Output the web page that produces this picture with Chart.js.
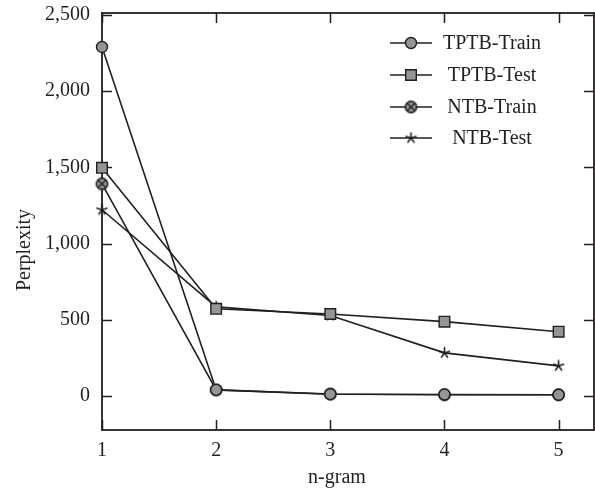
<!DOCTYPE html>
<html><head><meta charset="utf-8">
<script src="https://cdn.jsdelivr.net/npm/chart.js@4/dist/chart.umd.min.js"></script>
<style>html,body{margin:0;padding:0;background:#fff}#wrap{width:595px;height:496px}</style>
</head><body><div id="wrap"><canvas id="c" width="595" height="496"></canvas></div>
<script>
const nGrams = [1, 2, 3, 4, 5];
const tptbTrain = [2290, 40, 12, 10, 8];
const tptbTest = [1497, 572, 538, 488, 422];
const ntbTrain = [1392, 40, 13, 8, 8];
const ntbTest = [1222, 585, 528, 283, 198];
const yTicks = [0, 500, 1000, 1500, 2000, 2500];
const xTicks = [1, 2, 3, 4, 5];
const seriesNames = ['TPTB-Train', 'TPTB-Test', 'NTB-Train', 'NTB-Test'];

const INK = '#231f20';
const GRAY = '#959595';
const FONT = '"Liberation Serif", "DejaVu Serif", serif';
const FS = 20;

// crossed-circle marker
function makeCrossCircle() {
  const s = 15, c = document.createElement('canvas');
  c.width = s; c.height = s;
  const g = c.getContext('2d');
  const m = s / 2, r = 5.6;
  g.beginPath(); g.arc(m, m, r, 0, Math.PI * 2);
  g.fillStyle = GRAY; g.fill();
  g.lineWidth = 1.6; g.strokeStyle = INK; g.stroke();
  const d = r * 0.68;
  g.beginPath();
  g.moveTo(m - d, m - d); g.lineTo(m + d, m + d);
  g.moveTo(m + d, m - d); g.lineTo(m - d, m + d);
  g.lineWidth = 1.4; g.stroke();
  return c;
}
// typographic asterisk marker
function makeAsterisk() {
  const s = 13, c = document.createElement('canvas');
  c.width = s; c.height = s;
  const g = c.getContext('2d');
  const m = s / 2, r = 5.2;
  g.strokeStyle = INK; g.lineWidth = 1.6; g.lineCap = 'round';
  g.beginPath();
  for (let k = 0; k < 5; k++) {
    const ang = (-90 + k * 72) * Math.PI / 180;
    g.moveTo(m, m); g.lineTo(m + r * Math.cos(ang), m + r * Math.sin(ang));
  }
  g.stroke();
  return c;
}
const crossCircle = makeCrossCircle();
const asterisk = makeAsterisk();

const pts = arr => arr.map((v, i) => ({ x: nGrams[i], y: v }));
const styles = [
  { pointStyle: 'circle', pointRadius: 5.5, pointBackgroundColor: GRAY },
  { pointStyle: 'rect', pointRadius: 7.5, pointBackgroundColor: GRAY },
  { pointStyle: crossCircle, pointRadius: 6, pointBackgroundColor: GRAY },
  { pointStyle: asterisk, pointRadius: 5.5, pointBackgroundColor: INK }
];
const values = [tptbTrain, tptbTest, ntbTrain, ntbTest];
const datasets = values.map((arr, i) => Object.assign({
  label: seriesNames[i],
  data: pts(arr),
  borderColor: INK,
  borderWidth: 1.6,
  pointBorderColor: INK,
  pointBorderWidth: 1.4,
  fill: false,
  tension: 0,
  clip: false
}, styles[i]));

const framePlugin = {
  id: 'frame',
  beforeDatasetsDraw(chart) {
    const { ctx, chartArea: a, scales } = chart;
    ctx.save();
    ctx.strokeStyle = INK;
    ctx.lineWidth = 1.8;
    ctx.strokeRect(a.left, a.top, a.right - a.left, a.bottom - a.top);
    ctx.lineWidth = 1.5;
    const tl = 10;
    ctx.beginPath();
    yTicks.forEach(v => {
      const y = Math.round(scales.y.getPixelForValue(v)) + 0.5;
      ctx.moveTo(a.left, y); ctx.lineTo(a.left + tl, y);
      ctx.moveTo(a.right, y); ctx.lineTo(a.right - tl, y);
    });
    xTicks.forEach(v => {
      const x = Math.round(scales.x.getPixelForValue(v)) + 0.5;
      ctx.moveTo(x, a.bottom); ctx.lineTo(x, a.bottom - tl);
      ctx.moveTo(x, a.top); ctx.lineTo(x, a.top + tl);
    });
    ctx.stroke();
    ctx.restore();
  },
  afterDraw(chart) {
    const { ctx, chartArea: a } = chart;
    ctx.save();
    ctx.fillStyle = INK;
    ctx.font = FS + 'px ' + FONT;
    // axis titles
    ctx.textAlign = 'center';
    ctx.textBaseline = 'alphabetic';
    ctx.fillText('n-gram', a.left + 235, 483);
    ctx.save();
    ctx.translate(30, 250);
    ctx.rotate(-Math.PI / 2);
    ctx.fillText('Perplexity', 0, 0);
    ctx.restore();
    // legend
    const lx0 = 390, lx1 = 432, mx = 411, tx = 492;
    const rows = [43, 75, 107, 138];
    chart.data.datasets.forEach((ds, i) => {
      const y = rows[i];
      ctx.strokeStyle = INK;
      ctx.lineWidth = 1.6;
      ctx.beginPath(); ctx.moveTo(lx0, y); ctx.lineTo(lx1, y); ctx.stroke();
      ctx.fillStyle = ds.pointBackgroundColor;
      ctx.strokeStyle = INK;
      ctx.lineWidth = ds.pointBorderWidth;
      if (Chart.helpers && Chart.helpers.drawPoint) {
        Chart.helpers.drawPoint(ctx, { pointStyle: ds.pointStyle, radius: ds.pointRadius, rotation: 0, borderWidth: ds.pointBorderWidth }, mx, y);
      }
      ctx.fillStyle = INK;
      ctx.textAlign = 'center';
      ctx.textBaseline = 'middle';
      ctx.fillText(ds.label, tx, y + 1);
    });
    ctx.restore();
  }
};

const noPad = s => { s.paddingLeft = 0; s.paddingRight = 0; s.paddingTop = 0; s.paddingBottom = 0; };

new Chart(document.getElementById('c'), {
  type: 'line',
  data: { datasets },
  options: {
    responsive: false,
    animation: false,
    devicePixelRatio: 1,
    layout: { autoPadding: false, padding: { top: 13, right: 1, left: 0, bottom: 0 } },
    plugins: { legend: { display: false }, tooltip: { enabled: false } },
    scales: {
      x: {
        type: 'linear', min: 1, max: 5.31,
        grid: { display: false, drawTicks: false },
        border: { display: false },
        afterBuildTicks: s => { s.ticks = xTicks.map(v => ({ value: v })); },
        afterFit: s => { s.height = 66; noPad(s); },
        ticks: { color: INK, font: { family: FONT, size: FS }, padding: 9, callback: v => String(v) }
      },
      y: {
        type: 'linear', min: -223, max: 2513,
        grid: { display: false, drawTicks: false },
        border: { display: false },
        afterBuildTicks: s => { s.ticks = yTicks.map(v => ({ value: v })); },
        afterFit: s => { s.width = 102; noPad(s); },
        ticks: { color: INK, font: { family: FONT, size: FS }, padding: 12, callback: v => v.toLocaleString('en-US') }
      }
    }
  },
  plugins: [framePlugin]
});
</script>
</body></html>
